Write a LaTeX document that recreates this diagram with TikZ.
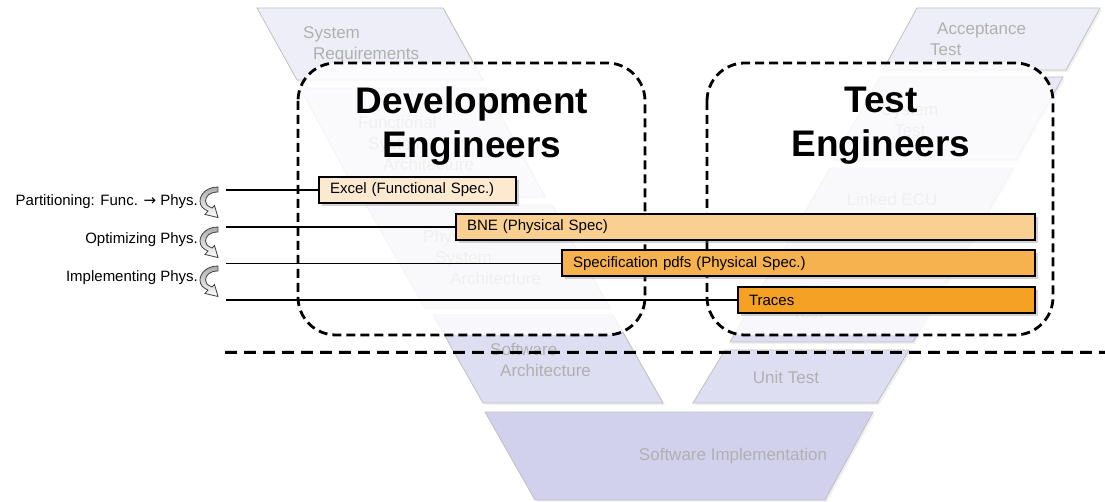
\documentclass[tikz,border=0pt]{standalone}
\usepackage{fontspec}
\setmainfont{Liberation Sans}
\newfontfamily\arrowfont{DejaVu Sans}
\usepackage{tikz}
\usetikzlibrary{shadows}

\definecolor{vline}{HTML}{C0C0C0}
\definecolor{vgray}{HTML}{B0B0B0}
\definecolor{levA}{HTML}{EEEEF8}
\definecolor{levB}{HTML}{E9E9F6}
\definecolor{levC}{HTML}{E4E4F4}
\definecolor{levD}{HTML}{DEDEF2}
\definecolor{levE}{HTML}{D1D1ED}
\definecolor{excelfill}{HTML}{FDE9D0}
\definecolor{bnefill}{HTML}{FAD092}
\definecolor{specfill}{HTML}{F6B24E}
\definecolor{tracefill}{HTML}{F5A123}

\begin{document}
\begin{tikzpicture}[x=1pt, y=-1pt,
  vbox/.style={draw=vline, line width=0.8pt,
    drop shadow={opacity=0.12, shadow xshift=2pt, shadow yshift=-2pt}},
  vlabel/.style={text=vgray, font=\fontsize{17}{21}\selectfont, inner sep=0pt},
  teambox/.style={draw, line width=2.8pt, dash pattern=on 9pt off 5pt,
    rounded corners=38pt, fill=white, fill opacity=0.8},
  teamtitle/.style={font=\fontsize{37}{44}\selectfont\bfseries, align=center, inner sep=0pt},
  toolbar/.style={draw, line width=2pt, anchor=west, minimum height=26pt,
    inner xsep=11pt, inner ysep=2pt, align=left, font=\fontsize{15}{18}\selectfont,
    drop shadow={opacity=0.35, shadow xshift=3pt, shadow yshift=-3pt}},
  link/.style={line width=1.1pt},
  sidelabel/.style={anchor=east, inner sep=0pt, font=\fontsize{15}{18}\selectfont},
  turnarrow/.style={draw=black!75, line width=0.8pt, top color=gray!65, bottom color=white},
  divider/.style={line width=3pt, dash pattern=on 12pt off 7pt}
]
\useasboundingbox (0,0) rectangle (1105,502);

% V model, left leg
\draw[vbox, fill=levA] (257,8) -- (443,8) -- (483,80) -- (297,80) -- cycle;
\node[vlabel, anchor=west, align=left] (sysreq) at (303,45) {System\\\hspace*{10pt}Requirements};
\draw[vbox, fill=levB] (300,88) -- (486,88) -- (545,197) -- (359,197) -- cycle;
\node[vlabel, anchor=west, align=left] (funcarch) at (358,143) {Functional\\\hspace*{10pt}System\\\hspace*{25pt}Architecture};
\draw[vbox, fill=levC] (366,205) -- (552,205) -- (610,308) -- (425,308) -- cycle;
\node[vlabel, anchor=west, align=left] (physarch) at (423,257) {Physical\\\hspace*{12pt}System\\\hspace*{27pt}Architecture};
\draw[vbox, fill=levD] (433,315) -- (613,315) -- (663,403) -- (483,403) -- cycle;
\node[vlabel, anchor=west, align=left] (swarch) at (490,360) {Software\\\hspace*{10pt}Architecture};

% V model, bottom
\draw[vbox, fill=levE] (485,412) -- (873,412) -- (825,500) -- (535,500) -- cycle;
\node[vlabel] (swimpl) at (733,456) {Software Implementation};

% V model, right leg
\draw[vbox, fill=levA] (917,8) -- (1100,8) -- (1066,70) -- (883,70) -- cycle;
\node[vlabel, anchor=west, align=left] (accept) at (930,39) {\hspace*{7pt}Acceptance\\Test};
\draw[vbox, fill=levB] (880,77) -- (1063,77) -- (1016,160) -- (833,160) -- cycle;
\node[vlabel, align=center] (systest) at (910,120) {System\\Test};
\draw[vbox, fill=levC] (830,168) -- (1013,168) -- (966,251) -- (783,251) -- cycle;
\node[vlabel] (linkedecu) at (892,199) {Linked ECU};
\draw[vbox, fill=levD] (778,258) -- (961,258) -- (913,342) -- (730,342) -- cycle;
\node[vlabel, anchor=west, align=left] (ecutest) at (792,302) {\hspace*{8pt}ECU\\Test};
\draw[vbox, fill=levD] (725,350) -- (909,350) -- (877,403) -- (693,403) -- cycle;
\node[vlabel] (unittest) at (786,377) {Unit Test};

% teams
\draw[teambox] (298,63) rectangle (645,335);
\draw[teambox] (707,63) rectangle (1053,335);
\node[teamtitle] (devteam) at (472,126) {Development\\Engineers};
\node[teamtitle] (testteam) at (881,126) {Test\\Engineers};

% divider
\coordinate (d0) at (225,352);
\coordinate (d1) at (1105,352);
\draw[divider, draw=black!30, line width=4pt, opacity=0.5, yshift=-3pt] (d0) -- (d1);
\draw[divider] (d0) -- (d1);

% artefacts
\node[toolbar, fill=excelfill, text width=175pt] (excel) at (318,190) {Excel (Functional Spec.)};
\node[toolbar, fill=bnefill, text width=557pt] (bne) at (455,227) {BNE (Physical Spec)};
\node[toolbar, fill=specfill, text width=451pt] (spec) at (561,263.5) {Specification pdfs (Physical Spec.)};
\node[toolbar, fill=tracefill, text width=275pt] (traces) at (737,300) {Traces};

\coordinate (p1) at (226,190);
\coordinate (p2) at (226,227);
\coordinate (p3) at (226,263.5);
\coordinate (p4) at (226,300);
\draw[link] (p1) -- (excel.west);
\draw[link] (p2) -- (bne.west);
\draw[link] (p3) -- (spec.west);
\draw[link] (p4) -- (traces.west);

% steps
\node[sidelabel] (partition) at (198,202) {Partitioning: Func. {\arrowfont →} Phys.};
\node[sidelabel] (optimize) at (198,240) {Optimizing Phys.};
\node[sidelabel] (implement) at (198,278) {Implementing Phys.};
\foreach \y in {187,227,266}
  \draw[turnarrow, shift={(200,\y)}] (18,0) .. controls (6,0) and (0,8) .. (0,14)
    .. controls (0,19) and (3,22) .. (8,24) -- (5,27.5) -- (18,30.5)
    -- (14.5,18.5) -- (12,21) .. controls (7,19) and (5.5,17) .. (5.5,14)
    .. controls (5.5,9) and (10,5) .. (18,5) -- cycle;
\end{tikzpicture}
\end{document}
